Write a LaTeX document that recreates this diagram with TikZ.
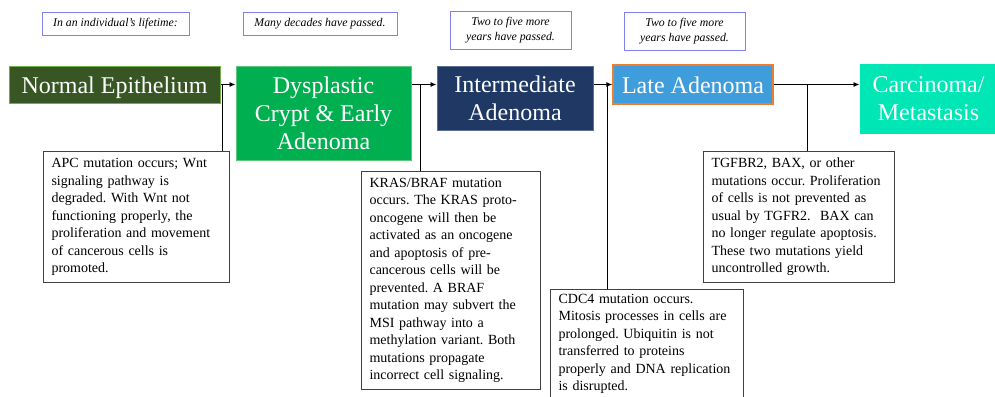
\documentclass[tikz,border=0pt]{standalone}
\usepackage{fontspec}
\setmainfont{Liberation Serif}
\usetikzlibrary{arrows.meta}
\definecolor{neFill}{RGB}{56,86,35}
\definecolor{neLine}{RGB}{112,173,71}
\definecolor{dysFill}{RGB}{0,176,80}
\definecolor{dysLine}{RGB}{90,200,120}
\definecolor{intFill}{RGB}{31,56,100}
\definecolor{intLine}{RGB}{90,110,150}
\definecolor{lateFill}{RGB}{64,157,220}
\definecolor{lateLine}{RGB}{237,125,49}
\definecolor{carcFill}{RGB}{0,230,180}
\definecolor{noteLine}{RGB}{128,128,240}
\definecolor{boxLine}{RGB}{64,64,64}
\frenchspacing
\begin{document}
\begin{tikzpicture}[x=1pt,y=-1pt,
  stage/.style={draw, line width=1pt, text=white, align=center,
    font=\fontsize{24}{28}\selectfont, inner sep=0pt},
  oneline/.style={text height=20pt, text depth=3pt},
  timenote/.style={draw=noteLine, line width=0.9pt, align=center,
    font=\fontsize{11.8}{15}\selectfont\itshape, inner sep=0pt},
  mutbox/.style={draw=boxLine, line width=1.1pt, fill=white, align=left,
    anchor=north west, inner xsep=8pt, inner ysep=4.5pt,
    font=\fontsize{14}{17.5}\selectfont},
  flow/.style={-{Latex[length=6pt,width=5pt]}, line width=0.9pt},
  link/.style={line width=0.9pt}]
\useasboundingbox (0,0) rectangle (995,396);
\clip (0,0) rectangle (995,396);

% time notes
\node[timenote, minimum width=147pt, minimum height=23pt] (t1) at (115.5,23.5) {In an individual's lifetime:};
\node[timenote, minimum width=154pt, minimum height=23pt] (t2) at (320,23.5) {Many decades have passed.};
\node[timenote, minimum width=121pt, minimum height=38pt] (t3) at (510.5,30) {Two to five more\\years have passed.};
\node[timenote, minimum width=121pt, minimum height=38pt] (t4) at (684.5,31) {Two to five more\\years have passed.};

% stages
\node[stage, oneline, fill=neFill, draw=neLine, minimum width=211pt, minimum height=37pt] (ne) at (114.5,84.5) {Normal Epithelium};
\node[stage, fill=dysFill, draw=dysLine, minimum width=175pt, minimum height=94pt] (dys) at (323.5,113) {Dysplastic\\Crypt \& Early\\Adenoma};
\node[stage, fill=intFill, draw=intLine, minimum width=156pt, minimum height=64pt] (inter) at (515,98) {Intermediate\\Adenoma};
\node[stage, oneline, fill=lateFill, draw=lateLine, line width=1.4pt, minimum width=160pt, minimum height=39pt] (late) at (693,84.5) {Late Adenoma};
\node[stage, fill=carcFill, draw=carcFill, minimum width=137pt, minimum height=68pt] (carc) at (928.5,99) {Carcinoma/\\Metastasis};

% mutation boxes
\node[mutbox, text width=170pt, minimum height=131pt] (apc) at (43,151) {APC mutation occurs; Wnt\\signaling pathway is\\degraded. With Wnt not\\functioning properly, the\\proliferation and movement\\of cancerous cells is\\promoted.};
\node[mutbox, text width=163pt, minimum height=218pt] (kras) at (361,171) {KRAS/BRAF mutation\\occurs. The KRAS proto-\\oncogene will then be\\activated as an oncogene\\and apoptosis of pre-\\cancerous cells will be\\prevented. A BRAF\\mutation may subvert the\\MSI pathway into a\\methylation variant. Both\\mutations propagate\\incorrect cell signaling.};
\node[mutbox, text width=177pt] (cdc) at (550,289) {CDC4 mutation occurs.\\Mitosis processes in cells are\\prolonged. Ubiquitin is not\\transferred to proteins\\properly and DNA replication\\is disrupted.};
\node[mutbox, text width=175pt, minimum height=131pt] (tgf) at (703,151) {TGFBR2, BAX, or other\\mutations occur. Proliferation\\of cells is not prevented as\\usual by TGFR2.\ \ BAX can\\no longer regulate apoptosis.\\These two mutations yield\\uncontrolled growth.};

% junctions
\coordinate (j1) at (222,84.5);
\coordinate (j2) at (420,84.5);
\coordinate (j3) at (607,84.5);
\coordinate (j4) at (807,84.5);

% flow arrows
\draw[flow] (ne.east) -- (dys.west |- ne.east);
\draw[flow] (dys.east |- ne.east) -- (inter.west |- ne.east);
\draw[flow] (inter.east |- late.west) -- (late.west);
\draw[flow] (late.east) -- (carc.west |- late.east);

% links to mutation boxes
\draw[link] (j1) -- (apc.north -| j1);
\draw[link] (j2) -- (kras.north -| j2);
\draw[link] (j3) -- (cdc.north -| j3);
\draw[link] (j4) -- (tgf.north -| j4);
\end{tikzpicture}
\end{document}
